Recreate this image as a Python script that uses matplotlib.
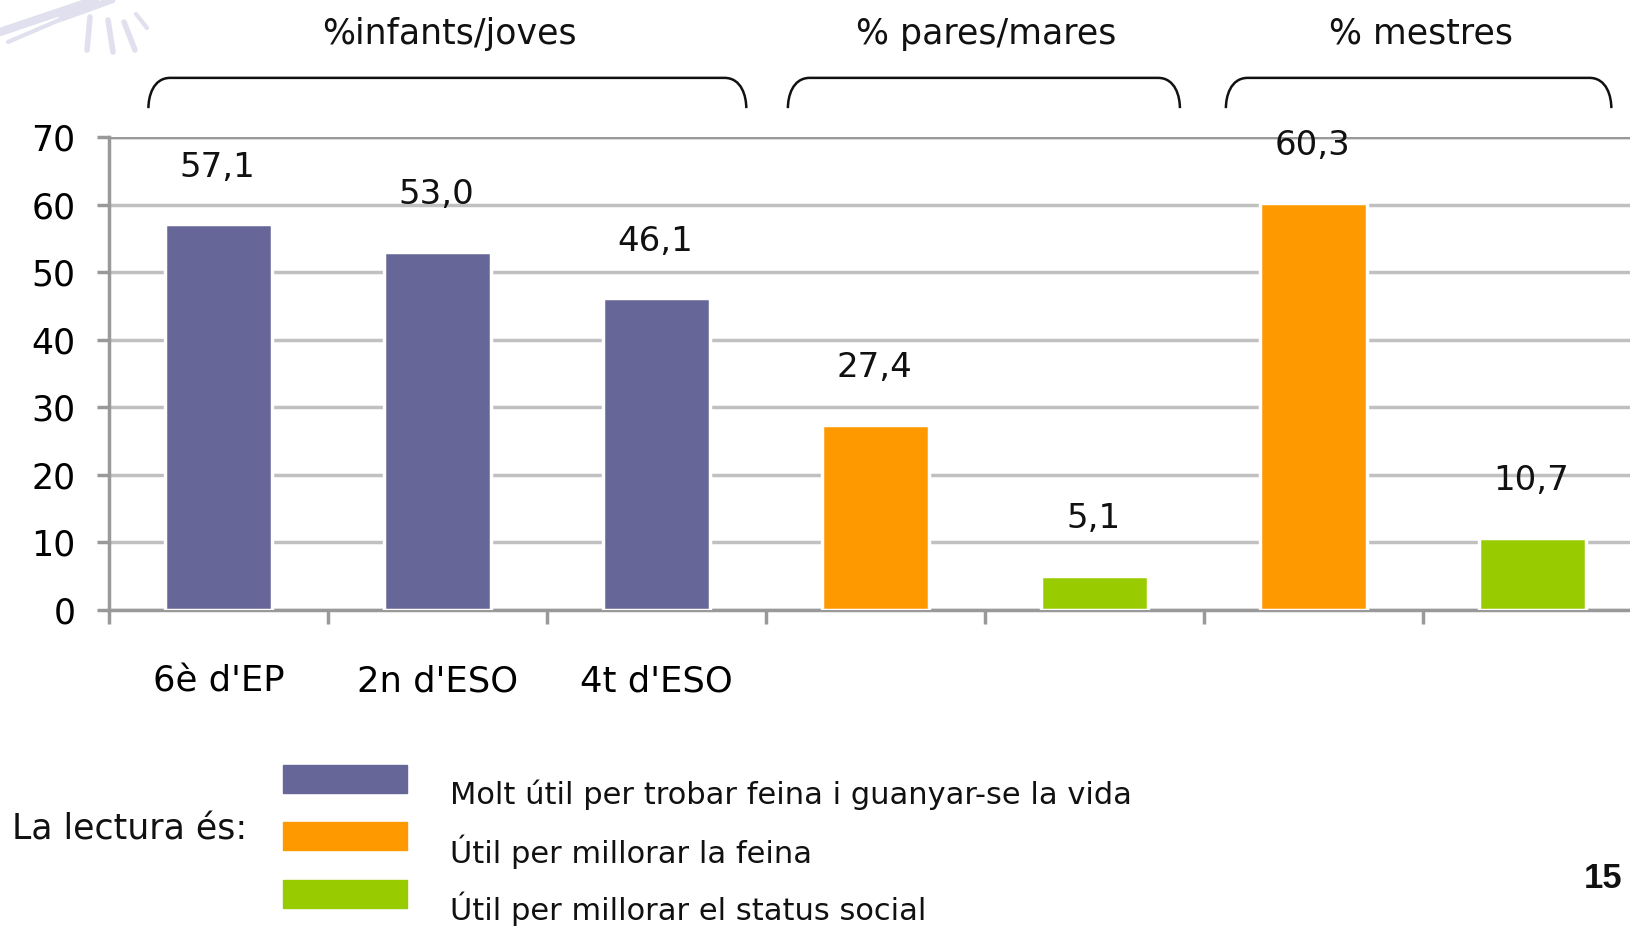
import matplotlib
matplotlib.use("Agg")
import matplotlib.pyplot as plt
from matplotlib.transforms import blended_transform_factory
from matplotlib.path import Path
from matplotlib.patches import PathPatch, Rectangle
from matplotlib.lines import Line2D

plt.rcParams["font.family"] = ["DejaVu Sans"]

# data
categories = ["6è d'EP", "2n d'ESO", "4t d'ESO", "", "", "", ""]
values = [57.1, 53.0, 46.1, 27.4, 5.1, 60.3, 10.7]
series = [0, 0, 0, 1, 2, 1, 2]
series_names = ["Molt útil per trobar feina i guanyar-se la vida",
                "Útil per millorar la feina",
                "Útil per millorar el status social"]
colors = ["#666699", "#FF9900", "#99CC00"]
groups = ["%infants/joves", "% pares/mares", "% mestres"]
group_spans = [(-0.32, 2.41), (2.6, 4.39), (4.6, 6.36)]
yticks = [0, 10, 20, 30, 40, 50, 60, 70]

W, H = 1630, 926
fig = plt.figure(figsize=(W / 100, H / 100), dpi=100)
ax = fig.add_axes([109 / W, 1 - 610 / H, 1533 / W, 473 / H])

x = list(range(len(values)))
ax.bar(x, values, width=0.49, color=[colors[s] for s in series],
       edgecolor="white", linewidth=2.5, zorder=3)

for xi, v in zip(x, values):
    ax.annotate(f"{v:.1f}".replace(".", ","), (xi, v), xytext=(-1, 41),
                textcoords="offset points", ha="center", va="center",
                fontsize=24.5, color="#111111", zorder=4)

ax.set_xlim(-0.5, 6.5)
ax.set_ylim(0, 70)
ax.set_yticks(yticks)
ax.set_yticklabels([str(t) for t in yticks], fontsize=25)
ax.yaxis.grid(True, color="#C0C0C0", linewidth=2.5, zorder=1)
ax.set_axisbelow(True)

ax.set_xticks([i - 0.5 for i in range(len(values) + 1)])
ax.set_xticklabels([])
ax.set_xticks(x, minor=True)
ax.set_xticklabels(categories, minor=True, fontsize=25.5)
ax.tick_params(axis="x", which="major", length=10, width=2.5, color="#999999", direction="out")
ax.tick_params(axis="x", which="minor", length=0, pad=39)
ax.tick_params(axis="y", length=9, width=2.5, color="#999999", pad=15)

for s in ["top", "right"]:
    ax.spines[s].set_visible(False)
for s in ["left", "bottom"]:
    ax.spines[s].set_color("#999999")
    ax.spines[s].set_linewidth(2.5)
ax.axhline(70, color="#999999", linewidth=2.5, zorder=2)

# braces and group titles
tr = blended_transform_factory(ax.transData, ax.transAxes)
y_top, y_bot = 1.125, 1.061
for (a, b), name in zip(group_spans, groups):
    r = 0.1
    verts = [(a, y_bot), (a, y_top - 0.04), (a + 0.02, y_top), (a + r, y_top),
             (b - r, y_top), (b - 0.02, y_top), (b, y_top - 0.04), (b, y_bot)]
    codes = [Path.MOVETO, Path.CURVE4, Path.CURVE4, Path.CURVE4,
             Path.LINETO, Path.CURVE4, Path.CURVE4, Path.CURVE4]
    ax.add_patch(PathPatch(Path(verts, codes), transform=tr, fill=False,
                           edgecolor="#111111", linewidth=1.8, clip_on=False))
    ax.text((a + b) / 2 + 0.01, 1.218, name, transform=tr, ha="center",
            va="center", fontsize=25, color="#111111")

# legend
fig.text(12 / W, 1 - 830 / H, "La lectura és:", fontsize=25, va="center",
         ha="left", color="#111111")
patch_tops = [765, 822, 880]
text_ys = [795, 852, 909]
for c, name, pt, ty in zip(colors, series_names, patch_tops, text_ys):
    fig.patches.append(Rectangle((283 / W, 1 - (pt + 28) / H), 124 / W, 28 / H,
                                 transform=fig.transFigure, color=c))
    fig.text(450 / W, 1 - ty / H, name, fontsize=22, va="center", ha="left",
             color="#111111")

fig.text(1603 / W, 1 - 878 / H, "15", fontsize=25, fontweight="bold",
         family="Liberation Sans", ha="center", va="center", color="#111111")

# faint logo in the corner
logo = [((0, 32), (95, 0), 6), ((8, 42), (78, 12), 3), ((62, 18), (112, 0), 5),
        ((90, 17), (87, 50), 4), ((108, 20), (113, 52), 4),
        ((124, 22), (135, 50), 4), ((136, 14), (147, 28), 3)]
for (x0, y0), (x1, y1), lw in logo:
    fig.lines.append(Line2D([x0 / W, x1 / W], [1 - y0 / H, 1 - y1 / H],
                            transform=fig.transFigure, color="#E0E0EE",
                            linewidth=lw, solid_capstyle="round"))

fig.savefig("out.png", dpi=100)
